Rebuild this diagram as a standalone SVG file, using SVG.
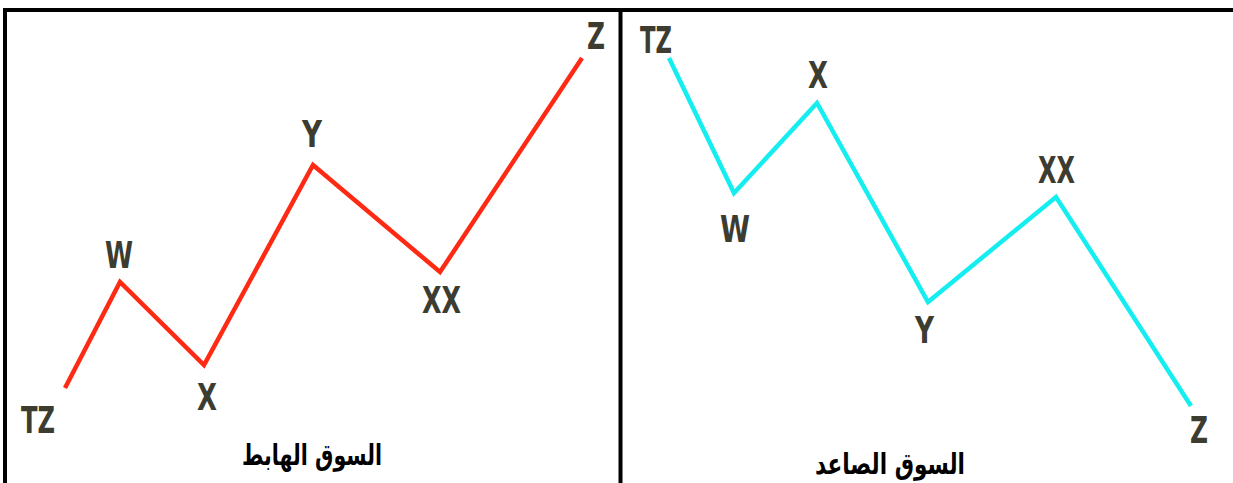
<svg xmlns="http://www.w3.org/2000/svg" width="1233" height="483" viewBox="0 0 1233 483">
<style>
.frame{fill:none;stroke:#000;stroke-width:4}
.wave{fill:none;stroke-width:4.5;stroke-linejoin:miter;stroke-linecap:butt}
.down{stroke:#ff2a14}
.up{stroke:#14eef0}
.lbl{font-family:"DejaVu Sans Condensed","Liberation Sans",sans-serif;font-size:37px;font-weight:bold;fill:#3c3c30}
.title{font-family:"DejaVu Sans","Noto Sans",sans-serif;font-size:29px;font-weight:bold;fill:#000;text-anchor:middle}
</style>
<rect width="1233" height="483" fill="#fff"/>
<g id="frame">
<path class="frame" d="M5,483 V10 H1233"/>
<line class="frame" x1="620.5" y1="10" x2="620.5" y2="483"/>
</g>
<g id="connectors">
<polyline class="wave down" points="65,388 120,282 204,365 313,165 440,272 582,58"/>
<polyline class="wave up" points="669,58 734,193 817,103 928,302 1056,197 1191,406"/>
</g>
<g id="left-chart">
<g id="l-tz"><text class="lbl" x="21" y="433" textLength="34" lengthAdjust="spacingAndGlyphs">TZ</text></g>
<g id="l-w"><text class="lbl" x="105" y="268" textLength="28" lengthAdjust="spacingAndGlyphs">W</text></g>
<g id="l-x"><text class="lbl" x="197" y="410" textLength="20" lengthAdjust="spacingAndGlyphs">X</text></g>
<g id="l-y"><text class="lbl" x="302" y="147" textLength="20" lengthAdjust="spacingAndGlyphs">Y</text></g>
<g id="l-xx"><text class="lbl" x="422" y="313" textLength="39" lengthAdjust="spacingAndGlyphs">XX</text></g>
<g id="l-z"><text class="lbl" x="587" y="49" textLength="18" lengthAdjust="spacingAndGlyphs">Z</text></g>
<g id="l-title"><text class="title" x="312" y="465" textLength="140" lengthAdjust="spacingAndGlyphs">السوق الهابط</text></g>
</g>
<g id="right-chart">
<g id="r-tz"><text class="lbl" x="640" y="53" textLength="32" lengthAdjust="spacingAndGlyphs">TZ</text></g>
<g id="r-w"><text class="lbl" x="720" y="242" textLength="30" lengthAdjust="spacingAndGlyphs">W</text></g>
<g id="r-x"><text class="lbl" x="808" y="88" textLength="20" lengthAdjust="spacingAndGlyphs">X</text></g>
<g id="r-y"><text class="lbl" x="915" y="343" textLength="19" lengthAdjust="spacingAndGlyphs">Y</text></g>
<g id="r-xx"><text class="lbl" x="1038" y="183" textLength="37" lengthAdjust="spacingAndGlyphs">XX</text></g>
<g id="r-z"><text class="lbl" x="1190" y="443" textLength="18" lengthAdjust="spacingAndGlyphs">Z</text></g>
<g id="r-title"><text class="title" x="890" y="474" textLength="150" lengthAdjust="spacingAndGlyphs">السوق الصاعد</text></g>
</g>
</svg>
